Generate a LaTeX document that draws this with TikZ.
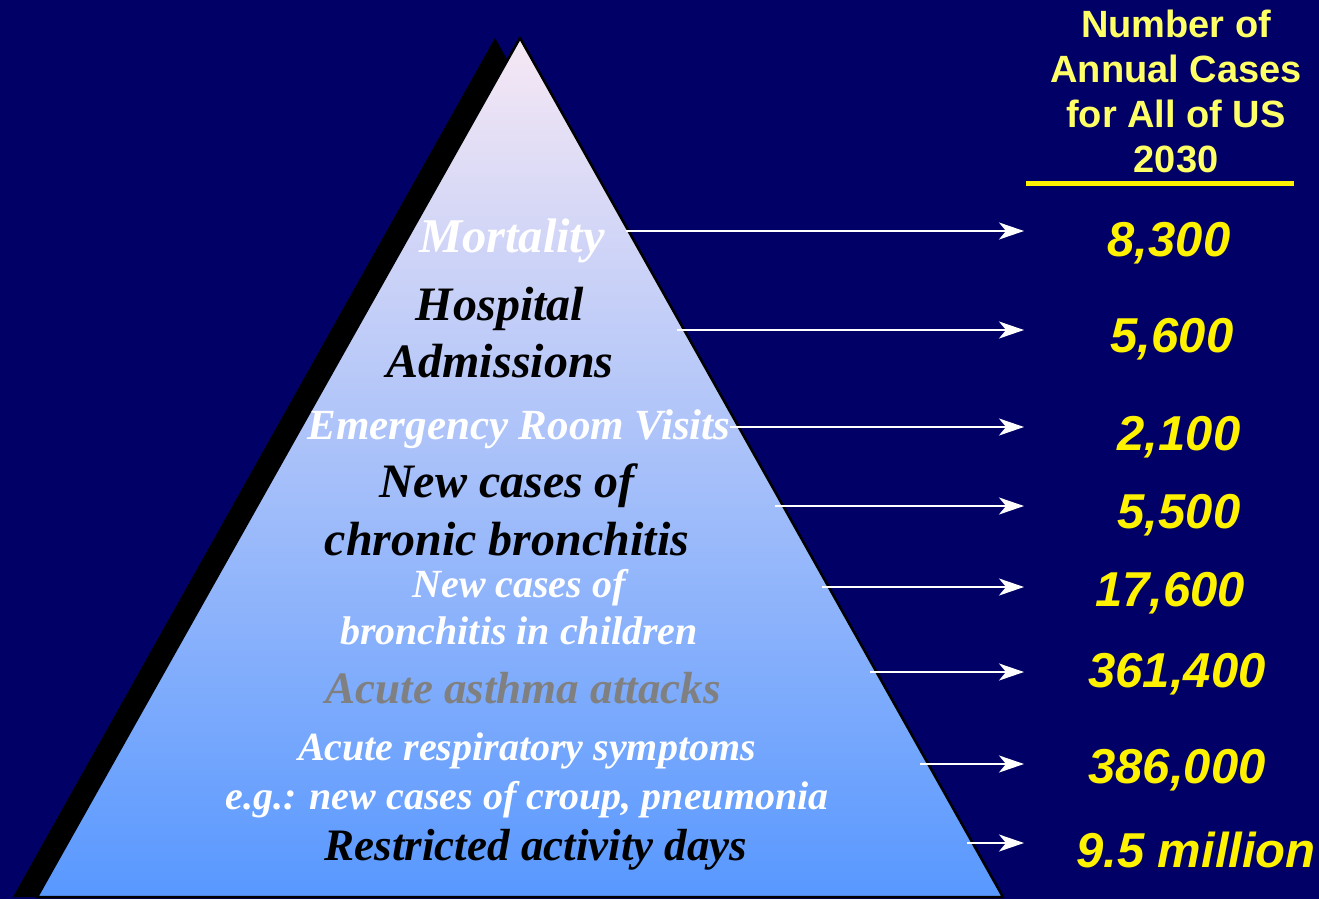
\documentclass[tikz,border=0pt]{standalone}
\usepackage{fontspec}
\setmainfont{Liberation Serif}
\newfontfamily\numfont{Liberation Sans}
\usetikzlibrary{arrows.meta}

\definecolor{navy}{HTML}{000066}
\definecolor{pyrtop}{HTML}{F6E8F4}
\definecolor{pyrmid}{HTML}{98C4FA}
\definecolor{pyrbot}{HTML}{5898FF}
\definecolor{asthmagray}{HTML}{808080}
\definecolor{headyellow}{HTML}{FFFF66}

\tikzset{
  level/.style={font=\bfseries\itshape\fontsize{48}{57}\selectfont, align=center, inner sep=0pt},
  smalllevel/.style={font=\bfseries\itshape\fontsize{40}{48}\selectfont, align=center, inner sep=0pt},
  count/.style={font=\numfont\bfseries\itshape\fontsize{49}{52}\selectfont, text=yellow, inner sep=0pt},
  pointer/.style={white, line width=2pt, -{Stealth[length=25pt, width=17pt, inset=7pt]}}
}

\begin{document}
\begin{tikzpicture}[x=1pt, y=-1pt]
    \useasboundingbox (0,0) rectangle (1319,899);
    \fill[navy] (0,0) rectangle (1319,899);

    % pyramid with its shadow
    \fill[black] (495,38) -- (13,897) -- (980,897) -- cycle;
    \shade[top color=pyrtop, middle color=pyrmid, bottom color=pyrbot]
        (520,38) -- (37,897) -- (1003,897) -- cycle;
    \draw[black, line width=2.5pt, line join=round] (37,897) -- (520,38) -- (1003,897) -- cycle;

    % levels
    \node[level, text=white, font=\bfseries\itshape\fontsize{48.5}{57}\selectfont] (mort) at (512,241) {Mortality};
    \node[level, text=black] (hosp) at (500,333) {Hospital\\Admissions};
    \node[level, text=white, font=\bfseries\itshape\fontsize{43}{48}\selectfont] (er) at (519,429) {Emergency Room Visits};
    \node[level, text=black, font=\bfseries\itshape\fontsize{48}{58}\selectfont] (chron) at (507,510) {New cases of\\chronic bronchitis};
    \node[smalllevel, text=white, font=\bfseries\itshape\fontsize{40}{47}\selectfont] (child) at (519,607) {New cases of\\bronchitis in children};
    \node[level, text=asthmagray, font=\bfseries\itshape\fontsize{45}{48}\selectfont] (asthma) at (523,688) {Acute asthma attacks};
    \node[smalllevel, text=white, font=\bfseries\itshape\fontsize{40}{49}\selectfont] (resp) at (527,775) {Acute respiratory symptoms\\e.g.: new cases of croup, pneumonia};
    \node[level, text=black, font=\bfseries\itshape\fontsize{45}{48}\selectfont] (rad) at (536,850) {Restricted activity days};

    % header
    \node[font=\numfont\bfseries\fontsize{38}{45}\selectfont, text=headyellow, align=center, inner sep=0pt] (head) at (1176,91)
        {Number of\\Annual Cases\\for All of US\\2030};
    \draw[yellow, line width=5pt] (1026,183) -- (1294,183);

    % counts
    \node[count] (n1) at (1169,243) {8,300};
    \node[count] (n2) at (1172,339) {5,600};
    \node[count] (n3) at (1179,437) {2,100};
    \node[count] (n4) at (1179,515) {5,500};
    \node[count] (n5) at (1170,593) {17,600};
    \node[count] (n6) at (1177,674) {361,400};
    \node[count] (n7) at (1177,770) {386,000};
    \node[count] (n8) at (1196,850) {9.5 million};

    % arrows
    \coordinate (s1) at (626,231); \coordinate (e1) at (1024,231);
    \coordinate (s2) at (677,330); \coordinate (e2) at (1024,330);
    \coordinate (s3) at (730,427); \coordinate (e3) at (1024,427);
    \coordinate (s4) at (775,506); \coordinate (e4) at (1024,506);
    \coordinate (s5) at (822,587); \coordinate (e5) at (1024,587);
    \coordinate (s6) at (870,672); \coordinate (e6) at (1024,672);
    \coordinate (s7) at (920,764); \coordinate (e7) at (1024,764);
    \coordinate (s8) at (967,843); \coordinate (e8) at (1024,843);
    \draw[pointer] (s1) -- (e1);
    \draw[pointer] (s2) -- (e2);
    \draw[pointer] (s3) -- (e3);
    \draw[pointer] (s4) -- (e4);
    \draw[pointer] (s5) -- (e5);
    \draw[pointer] (s6) -- (e6);
    \draw[pointer] (s7) -- (e7);
    \draw[pointer] (s8) -- (e8);
\end{tikzpicture}
\end{document}
